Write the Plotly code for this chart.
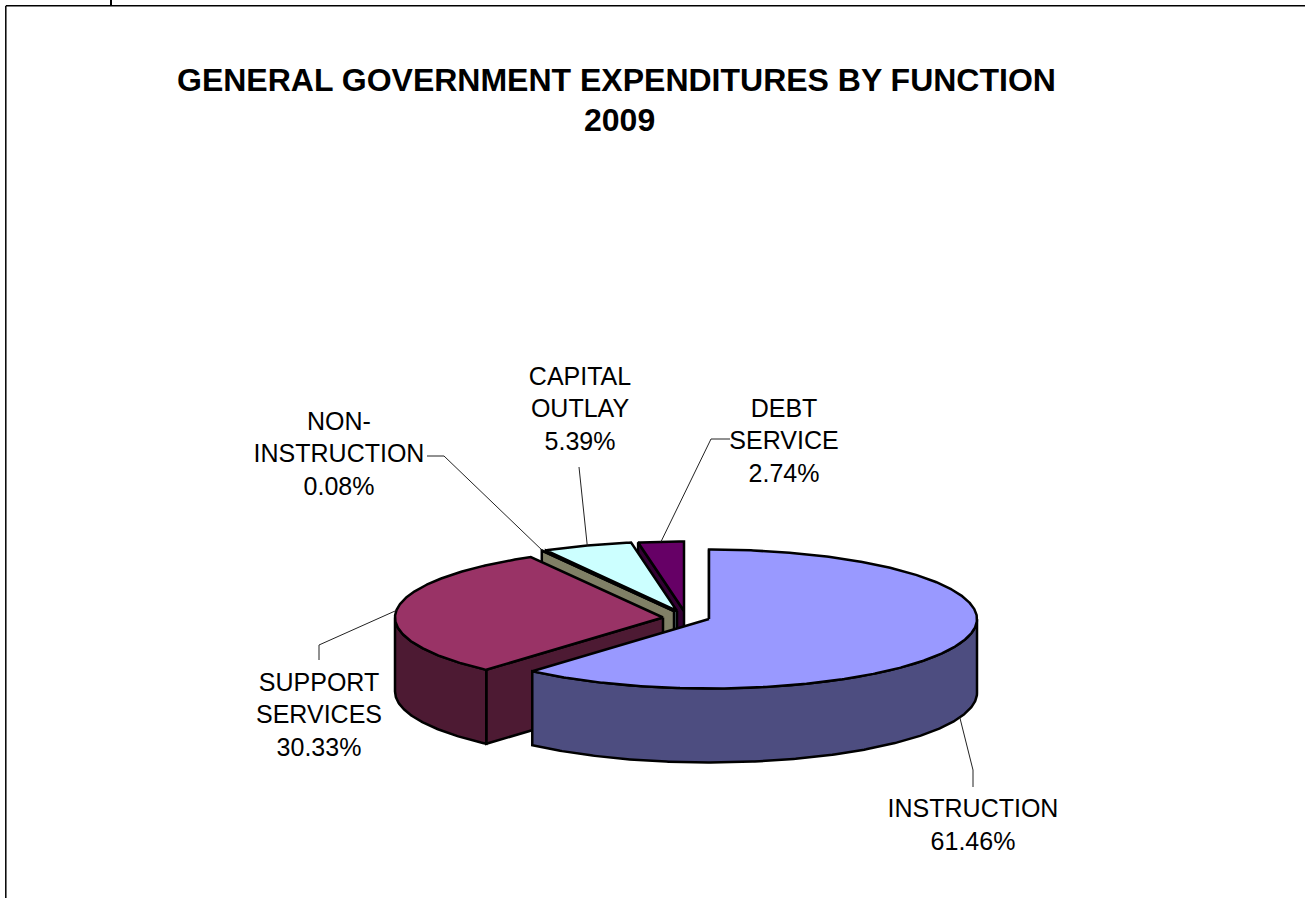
import math
import plotly.graph_objects as go

# Budget shares, in drawing order around the pie (clockwise from twelve o'clock)
categories = ["INSTRUCTION", "SUPPORT<br>SERVICES", "NON-<br>INSTRUCTION", "CAPITAL<br>OUTLAY", "DEBT<br>SERVICE"]
shares = [61.46, 30.33, 0.08, 5.39, 2.74]
top_colors = ["#9999FF", "#993366", "#FFFFCC", "#CCFFFF", "#660066"]
side_colors = ["#4D4D80", "#4D1A33", "#808066", "#668080", "#330033"]
title_lines = ["GENERAL GOVERNMENT EXPENDITURES BY FUNCTION", "2009"]

# Pie projection: an ellipse for the lid, a vertical drop for the wall
RX, RY, DEPTH = 268, 69.5, 74
# Where each exploded slice has its tip on the page
tips = [(709, 619), (663, 617.5), (674, 611), (677, 611), (684, 611)]
# Label anchor and the elbow of each leader line
label_pos = [(973, 827), (319, 717), (339, 456), (580, 411), (784, 443)]
leader_via = [[(973, 770), (973, 787)], [(319, 645), (319, 660)], [(444, 456), (427, 456)],
              [(579, 467)], [(711, 439), (730, 439)]]
OUTLINE = 2.5


def rim(tip, deg, drop=0):
    a = math.radians(deg)
    return tip[0] + RX * math.sin(a), tip[1] - RY * math.cos(a) + drop


def arc(tip, a0, a1, drop=0):
    n = max(2, int(abs(a1 - a0) * 2) + 1)
    return [rim(tip, a0 + (a1 - a0) * i / (n - 1), drop) for i in range(n)]


def polygon(pts, color, width=OUTLINE):
    xs = [p[0] for p in pts] + [pts[0][0]]
    ys = [p[1] for p in pts] + [pts[0][1]]
    return go.Scatter(x=xs, y=ys, mode="lines", fill="toself", fillcolor=color,
                      line=dict(color="black", width=width), hoverinfo="skip", showlegend=False)


# Start and end angle of every slice, derived from the shares
starts, ends, total = [], [], 0.0
for s in shares:
    starts.append(total * 3.6)
    total += s
    ends.append(total * 3.6)

traces = []
# Back slices first so the nearer ones paint over them
for i in reversed(range(len(shares))):
    tip, a0, a1 = tips[i], starts[i], ends[i]
    edge = rim(tip, a0)
    # Cut face along the starting edge
    traces.append(polygon([tip, edge, (edge[0], edge[1] + DEPTH), (tip[0], tip[1] + DEPTH)], side_colors[i]))
    # Curved outer wall, only where the rim faces the viewer
    w0, w1 = max(a0, 90), min(a1, 270)
    if w1 > w0:
        traces.append(polygon(arc(tip, w0, w1) + arc(tip, w1, w0, DEPTH), side_colors[i]))
    # Lid
    traces.append(polygon([tip] + arc(tip, a0, a1), top_colors[i]))

# Leader lines from the middle of each slice's rim out to its label
for i in range(len(shares)):
    mid = (starts[i] + ends[i]) / 2
    drop = DEPTH if 90 < mid < 270 else 0
    pts = [rim(tips[i], mid, drop)] + leader_via[i]
    traces.append(go.Scatter(x=[p[0] for p in pts], y=[p[1] for p in pts], mode="lines",
                             line=dict(color="#222222", width=1), hoverinfo="skip", showlegend=False))

# Category and percentage labels
traces.append(go.Scatter(
    x=[p[0] for p in label_pos], y=[p[1] for p in label_pos], mode="text",
    text=[f"{c}<br>{s:.2f}%" for c, s in zip(categories, shares)],
    textposition="middle center",
    textfont=dict(family="Liberation Sans, Arial, sans-serif", size=25, color="black"),
    hoverinfo="skip", showlegend=False,
))

fig = go.Figure(traces)

# Sheet frame and the clipped descender above it
frame = dict(color="black", width=1.5)
fig.add_shape(type="line", x0=6, y0=5.8, x1=1305, y1=5.8, line=frame)
fig.add_shape(type="line", x0=5.8, y0=5.8, x1=5.8, y1=898, line=frame)
fig.add_shape(type="line", x0=111, y0=0, x1=111, y1=5, line=dict(color="black", width=2))

# Two-line heading, each line placed on its own
for text, x, y in zip(title_lines, [616, 619], [80, 120]):
    fig.add_annotation(x=x, y=y, xref="x", yref="y", showarrow=False, text=f"<b>{text}</b>",
                       font=dict(family="Liberation Sans, Arial, sans-serif", size=32, color="black"))

fig.update_layout(
    width=1305, height=898, margin=dict(l=0, r=0, t=0, b=0),
    paper_bgcolor="white", plot_bgcolor="white", showlegend=False,
    xaxis=dict(range=[0, 1305], visible=False, fixedrange=True),
    yaxis=dict(range=[898, 0], visible=False, fixedrange=True),
)
fig.write_html("out.html", config=dict(displayModeBar=False))
